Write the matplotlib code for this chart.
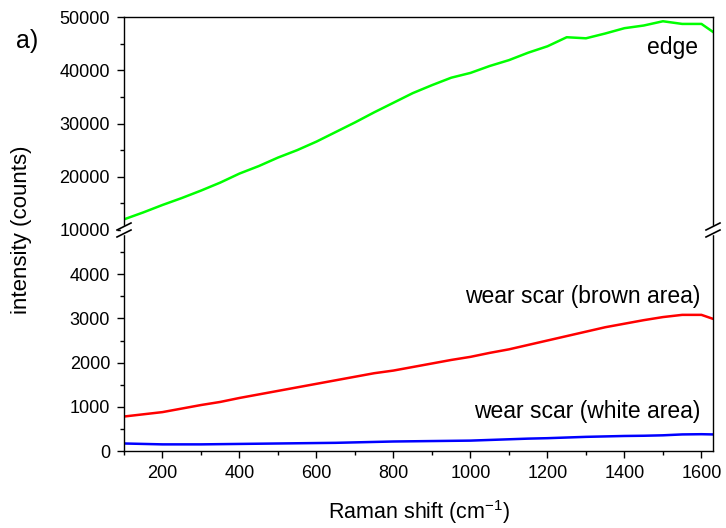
import matplotlib

matplotlib.use("Agg")
import matplotlib.pyplot as plt
from matplotlib.lines import Line2D
from matplotlib.patches import Rectangle
from matplotlib.ticker import MultipleLocator

plt.rcParams["font.family"] = ["Liberation Sans", "DejaVu Sans"]
plt.rcParams["mathtext.default"] = "regular"

# Raman shift (cm^-1)
shift = [100, 150, 200, 250, 300, 350, 400, 450, 500, 550, 600, 650, 700,
         750, 800, 850, 900, 950, 1000, 1050, 1100, 1150, 1200, 1250, 1300,
         1350, 1400, 1450, 1500, 1550, 1600, 1630]

edge = [12000, 13300, 14700, 16000, 17400, 18900, 20600, 22000, 23600,
        25000, 26600, 28400, 30200, 32100, 33900, 35700, 37200, 38600,
        39500, 40800, 41900, 43300, 44500, 46200, 46000, 46900, 47900,
        48400, 49200, 48700, 48700, 47200]

brown = [780, 830, 880, 960, 1040, 1110, 1200, 1280, 1360, 1440, 1520,
         1600, 1680, 1760, 1820, 1900, 1980, 2060, 2130, 2220, 2300, 2400,
         2500, 2600, 2700, 2800, 2880, 2960, 3030, 3080, 3080, 2990]

white = [170, 160, 150, 150, 150, 155, 160, 165, 170, 175, 180, 185, 195,
         205, 215, 220, 225, 230, 235, 250, 265, 280, 290, 305, 320, 330,
         340, 345, 355, 375, 380, 375]

W, H = 726, 528
fig = plt.figure(figsize=(W / 100, H / 100), dpi=100)

x0, x1 = 124 / W, 713 / W
ybrk = 1 - 230 / H
ybot = 1 - 451 / H
ytop = 1 - 17 / H

ax_top = fig.add_axes([x0, ybrk, x1 - x0, ytop - ybrk])
ax_bot = fig.add_axes([x0, ybot, x1 - x0, ybrk - ybot])

ax_top.plot(shift, edge, color="#00ff00", lw=1.8)
ax_bot.plot(shift, brown, color="#ff0000", lw=1.8)
ax_bot.plot(shift, white, color="#0000ff", lw=1.8)

for ax in (ax_top, ax_bot):
    ax.set_xlim(100, 1630)
    ax.tick_params(which="both", direction="out", top=False, right=False,
                   labelsize=13, width=1, pad=5)
    ax.tick_params(which="major", length=5)
    ax.tick_params(which="minor", length=3)
    ax.xaxis.set_major_locator(MultipleLocator(200))
    ax.xaxis.set_minor_locator(MultipleLocator(100))
    for s in ax.spines.values():
        s.set_linewidth(1)

ax_top.set_ylim(10000, 50000)
ax_top.yaxis.set_major_locator(MultipleLocator(10000))
ax_top.yaxis.set_minor_locator(MultipleLocator(5000))
ax_top.spines["bottom"].set_visible(False)
ax_top.tick_params(which="both", bottom=False, labelbottom=False)

ax_bot.set_ylim(0, 5000)
ax_bot.set_yticks([0, 1000, 2000, 3000, 4000])
ax_bot.yaxis.set_minor_locator(MultipleLocator(500))
ax_bot.spines["top"].set_visible(False)

ax_top.text(1592, 44200, "edge", ha="right", va="center", fontsize=16.5)
ax_bot.text(1596, 3500, "wear scar (brown area)", ha="right", va="center",
            fontsize=16.5)
ax_bot.text(1596, 900, "wear scar (white area)", ha="right", va="center",
            fontsize=16.5)

# axis break marks on both spines
for xs in (x0, x1):
    fig.add_artist(Rectangle((xs - 3 / W, ybrk - 4 / H), 6 / W, 8 / H,
                             transform=fig.transFigure, color="white",
                             zorder=10))
    for dy in (-3.5, 3.5):
        fig.add_artist(Line2D([xs - 7 / W, xs + 7 / W],
                              [ybrk + (dy - 3.5) / H, ybrk + (dy + 3.5) / H],
                              transform=fig.transFigure, color="black",
                              lw=1.2, zorder=11))

fig.text(22 / W, 1 - 230 / H, "intensity (counts)", rotation=90,
         ha="center", va="center", fontsize=16)
fig.text(419 / W, 1 - 512 / H, "Raman shift (cm$^{-1}$)", ha="center",
         va="center", fontsize=15.5)
fig.text(16 / W, 1 - 41 / H, "a)", ha="left", va="center", fontsize=18)

fig.savefig("out.png", dpi=100)
plt.close(fig)
